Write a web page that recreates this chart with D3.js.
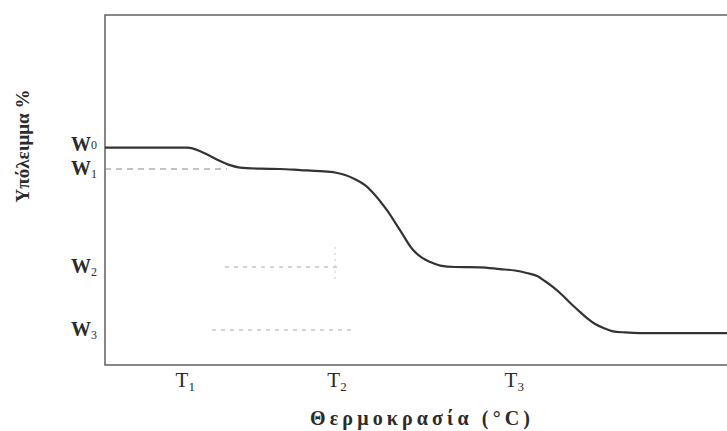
<!DOCTYPE html>
<html>
<head>
<meta charset="utf-8">
<script src="https://cdn.jsdelivr.net/npm/d3@7"></script>
<style>
  body { margin: 0; background: #fff; }
  text { font-family: "Liberation Serif", "DejaVu Serif", serif; fill: #2b2b2b; }
</style>
</head>
<body>
<script>
// TG curve (arbitrary units, 0..100 on both axes)
const temp = [0, 13.3, 15.3, 16.9, 18.5, 20.1, 21.7, 24.9, 28.1, 31.4, 34.6, 37.0, 38.6, 40.2, 41.8, 43.4,
  45.3, 47.4, 49.5, 51.0, 52.3, 53.9, 56.3, 60.3, 63.5, 65.9, 67.8, 69.5, 70.7, 72.0, 73.5, 74.8,
  76.4, 77.5, 78.8, 80.1, 81.5, 83.6, 86.0, 100];
const residue = [62.1, 62.1, 61.1, 59.7, 58.3, 57.1, 56.4, 56.1, 56.0, 55.7, 55.4, 55.0, 54.3, 53.1, 51.4, 48.6,
  44.3, 38.6, 32.9, 30.6, 29.4, 28.4, 28.0, 27.9, 27.4, 27.0, 26.3, 25.4, 24.0, 22.3, 20.0, 17.7,
  15.1, 13.4, 11.7, 10.6, 9.7, 9.3, 9.1, 9.1];

const tTicks = [12.9, 37.3, 65.8];
const tLabels = ["1", "2", "3"];
const wTicks = [62.1, 56.0, 28.0, 10.0];
const wLabels = ["0", "1", "2", "3"];

// dashed guide lines [x0, x1, y]
const guides = [[0, 19.6, 56.0], [19.3, 37.8, 28.0], [17.2, 39.9, 10.0]];

const width = 727, height = 431;
const svg = d3.select("body").append("svg")
  .attr("width", width)
  .attr("height", height);

const x = d3.scaleLinear().domain([0, 100]).range([105, 727]);
const y = d3.scaleLinear().domain([0, 100]).range([365, 15]);

// frame (right side runs off the picture)
svg.append("rect")
  .attr("x", x(0)).attr("y", y(100))
  .attr("width", 700).attr("height", y(0) - y(100))
  .attr("fill", "none")
  .attr("stroke", "#555")
  .attr("stroke-width", 1.4);

svg.selectAll(".guide").data(guides).enter().append("line")
  .attr("class", "guide")
  .attr("x1", d => x(d[0])).attr("x2", d => x(d[1]))
  .attr("y1", d => y(d[2])).attr("y2", d => y(d[2]))
  .attr("stroke", (d, i) => i == 0 ? "#888" : "#aaa")
  .attr("stroke-width", 1)
  .attr("stroke-dasharray", (d, i) => i == 0 ? "6,5" : "4,5");

svg.append("line")
  .attr("x1", x(37.0)).attr("x2", x(37.0))
  .attr("y1", y(33.7)).attr("y2", y(24.3))
  .attr("stroke", "#ccc")
  .attr("stroke-dasharray", "2,4");

const pts = temp.map((t, i) => [t, residue[i]]);
const line = d3.line()
  .x(d => x(d[0]))
  .y(d => y(d[1]))
  .curve(d3.curveMonotoneX);

svg.append("path")
  .datum(pts)
  .attr("d", line)
  .attr("fill", "none")
  .attr("stroke", "#333")
  .attr("stroke-width", 2.2);

// T labels under the frame
const tl = svg.selectAll(".tlab").data(tTicks).enter().append("text")
  .attr("class", "tlab")
  .attr("x", d => x(d))
  .attr("y", 387)
  .attr("text-anchor", "middle")
  .style("font-size", "21px");
tl.append("tspan").text("T");
tl.append("tspan").attr("dy", 4).style("font-size", "13px").text((d, i) => tLabels[i]);

// W labels left of the frame
const wl = svg.selectAll(".wlab").data(wTicks).enter().append("text")
  .attr("class", "wlab")
  .attr("x", 97)
  .attr("y", (d, i) => y(d) + (i == 0 ? 3 : 6))
  .attr("text-anchor", "end")
  .style("font-size", "20px")
  .style("font-weight", "bold");
wl.append("tspan").text("W");
wl.append("tspan").attr("dy", (d, i) => i == 0 ? -2 : 3)
  .style("font-size", "12px").style("font-weight", "normal")
  .text((d, i) => wLabels[i]);

svg.append("text")
  .attr("x", 420).attr("y", 425)
  .attr("text-anchor", "middle")
  .attr("textLength", 220)
  .attr("lengthAdjust", "spacing")
  .style("font-size", "20px")
  .style("font-weight", "bold")
  .text("Θερμοκρασία (°C)");

svg.append("text")
  .attr("transform", "translate(29,146) rotate(-90)")
  .attr("text-anchor", "middle")
  .style("font-size", "19px")
  .style("font-weight", "bold")
  .text("Υπόλειμμα %");
</script>
</body>
</html>
